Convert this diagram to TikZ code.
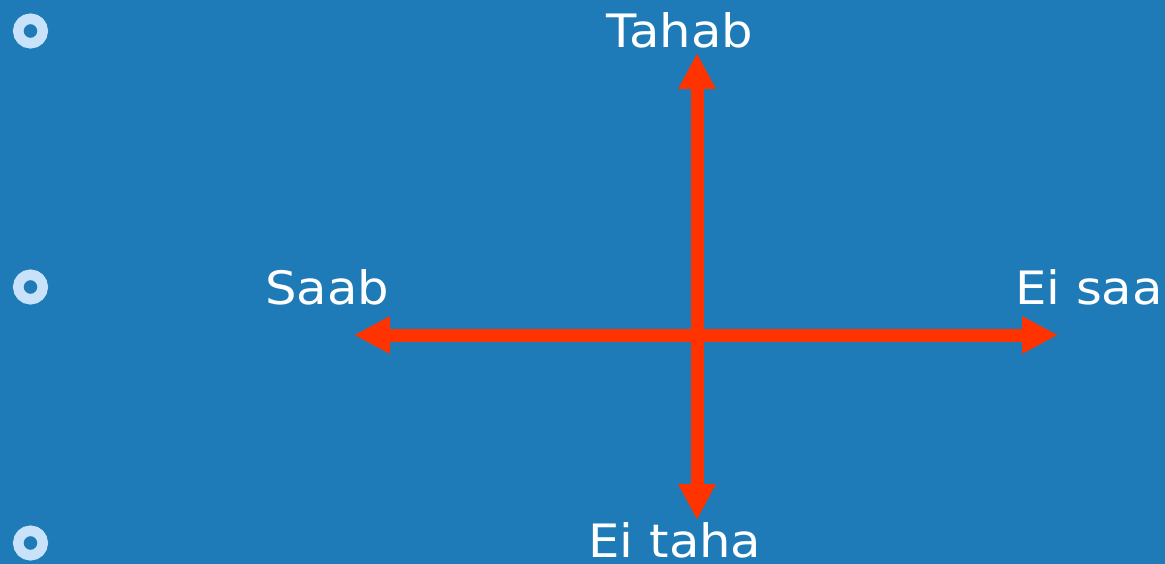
\documentclass[tikz,border=0pt]{standalone}
\usepackage{fontspec}
\setmainfont{DejaVu Sans}[FakeStretch=1.08]
\usetikzlibrary{arrows.meta}
\definecolor{bg}{HTML}{1F7BB7}
\definecolor{arr}{HTML}{FF3300}
\definecolor{bul}{HTML}{C8E2FA}
\begin{document}
\begin{tikzpicture}[x=1pt,y=-1pt,
  axis/.style={draw=arr, line width=13pt, {Triangle[width=35pt,length=36pt]}-{Triangle[width=35pt,length=36pt]}},
  lbl/.style={text=white, anchor=base, inner sep=0pt, font=\fontsize{46}{50}\selectfont},
  bullet/.style={draw=bul, line width=10.5pt}]
\fill[bg] (0,0) rectangle (1165,564);
\useasboundingbox (0,0) rectangle (1165,564);
\coordinate (top) at (697,53);
\coordinate (bot) at (697,520);
\coordinate (left) at (354,335);
\coordinate (right) at (1058,335);
\draw[axis] (left) -- (right);
\draw[axis] (bot) -- (top);
\node[lbl] (tahab) at (680,48) {Tahab};
\node[lbl] (saab) at (327,304) {Saab};
\node[lbl] (eisaa) at (1089,304) {Ei saa};
\node[lbl] (eitaha) at (675,557) {Ei taha};
\draw[bullet] (30.5,31) circle (12.25pt);
\draw[bullet] (30.5,287) circle (12.25pt);
\draw[bullet] (30.5,543) circle (12.25pt);
\end{tikzpicture}
\end{document}
